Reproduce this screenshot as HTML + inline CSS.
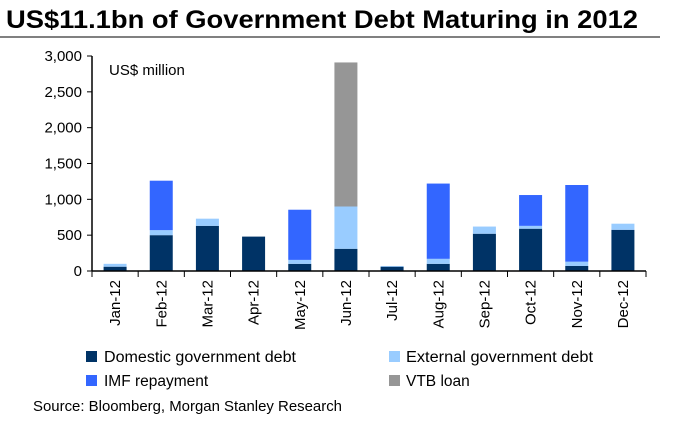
<!DOCTYPE html>
<html><head><meta charset="utf-8"><style>
body{margin:0;background:#fff;width:689px;height:423px;overflow:hidden;font-family:"Liberation Sans",Arial,sans-serif}
</style></head><body>
<svg id="c" width="689" height="423" xmlns="http://www.w3.org/2000/svg">
<text x="6" y="28" font-size="25" font-weight="bold" fill="#000" textLength="632" lengthAdjust="spacingAndGlyphs">US$11.1bn of Government Debt Maturing in 2012</text>
<line x1="0" y1="37" x2="660" y2="37" stroke="#000" stroke-width="1"/>
<text x="109" y="75" font-size="15">US$ million</text>
<g id="plot"></g>
<g font-size="15.5">
<rect x="86" y="351" width="11" height="11" fill="#003366"/>
<text x="104" y="362" textLength="192" lengthAdjust="spacingAndGlyphs">Domestic government debt</text>
<rect x="389" y="351" width="11" height="11" fill="#99ccff"/>
<text x="406" y="362" textLength="187" lengthAdjust="spacingAndGlyphs">External government debt</text>
<rect x="86" y="375" width="11" height="11" fill="#3366ff"/>
<text x="104" y="386">IMF repayment</text>
<rect x="389" y="375" width="11" height="11" fill="#969696"/>
<text x="406" y="386">VTB loan</text>
</g>
<text x="33" y="411" font-size="15" textLength="309" lengthAdjust="spacingAndGlyphs">Source: Bloomberg, Morgan Stanley Research</text>
</svg>
<script>
const categories=["Jan-12","Feb-12","Mar-12","Apr-12","May-12","Jun-12","Jul-12","Aug-12","Sep-12","Oct-12","Nov-12","Dec-12"];
const domestic=[60,500,630,480,100,310,60,100,520,590,70,575];
const external=[40,70,100,0,55,590,10,70,100,40,60,85];
const imf=[0,690,0,0,700,0,0,1050,0,430,1070,0];
const vtb=[0,0,0,0,0,2010,0,0,0,0,0,0];
const yTicks=[0,500,1000,1500,2000,2500,3000];
const yTickLabels=["0","500","1,000","1,500","2,000","2,500","3,000"];
const NS="http://www.w3.org/2000/svg";
const g=document.getElementById('plot');
const X0=92,X1=646,Y0=271,Y1=56,YMAX=3000;
const bw=(X1-X0)/categories.length;
const y=v=>Y0-(v/YMAX)*(Y0-Y1);
const xc=i=>X0+bw*(i+0.5);
function mk(t,a){const e=document.createElementNS(NS,t);for(const k in a)e.setAttribute(k,a[k]);g.appendChild(e);return e;}
const series=[[domestic,"#003366","domestic"],[external,"#99ccff","external"],[imf,"#3366ff","imf"],[vtb,"#969696","vtb"]];
categories.forEach((c,i)=>{let base=0;series.forEach(([arr,col,nm])=>{const v=arr[i];if(v>0){const r=mk('rect',{x:xc(i)-11.5,y:y(base+v),width:23,height:y(base)-y(base+v),fill:col});

}base+=v;});});
const ya=mk('line',{x1:X0,y1:Y1,x2:X0,y2:Y0,stroke:'#000','stroke-width':1.5});


const xa=mk('line',{x1:X0,y1:Y0,x2:X1,y2:Y0,stroke:'#000','stroke-width':1.5});


yTicks.forEach((v,k)=>{mk('line',{x1:X0-5,y1:y(v),x2:X0,y2:y(v),stroke:'#000'});
const t=mk('text',{x:X0-10,y:y(v)+5,'text-anchor':'end','font-size':15});t.textContent=yTickLabels[k];

});
for(let i=0;i<=categories.length;i++)mk('line',{x1:X0+bw*i,y1:Y0,x2:X0+bw*i,y2:Y0+6,stroke:'#000'});
categories.forEach((c,i)=>{const t=mk('text',{x:0,y:0,'text-anchor':'end','font-size':15,transform:`translate(${xc(i)+5},${Y0+9}) rotate(-90)`});t.textContent=c;

});
</script>
</body></html>
